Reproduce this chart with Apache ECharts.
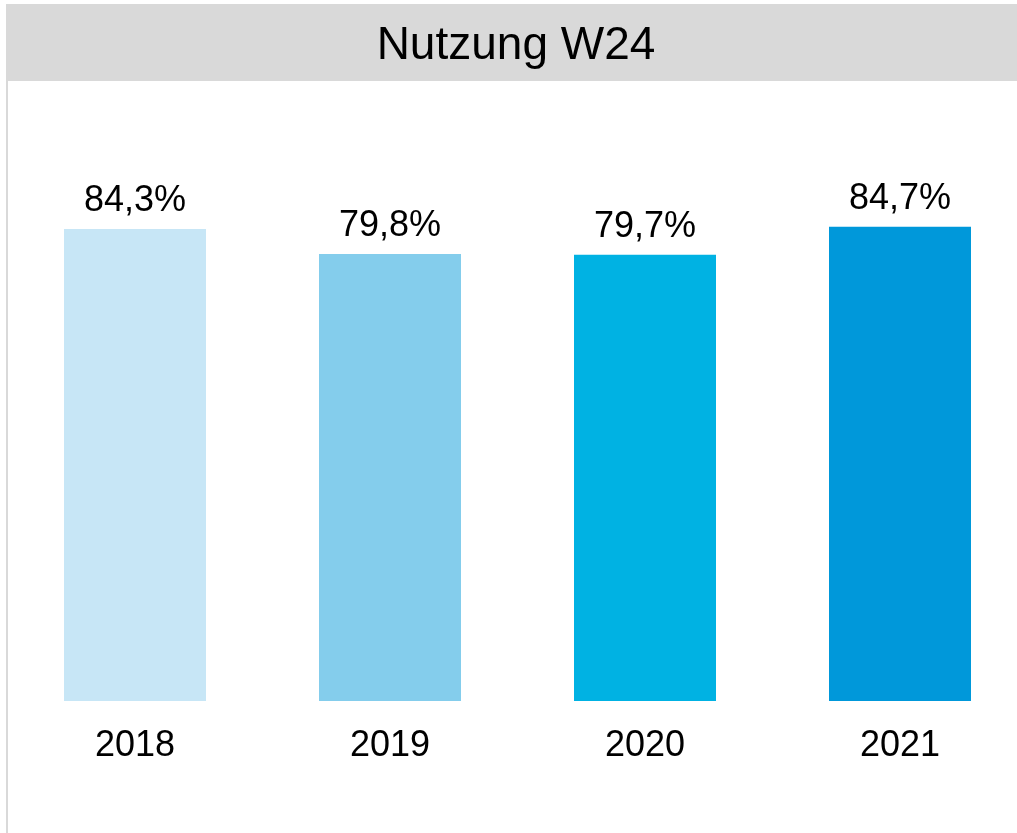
<!DOCTYPE html>
<html>
<head>
<meta charset="utf-8">
<script src="https://cdn.jsdelivr.net/npm/echarts@6/dist/echarts.min.js"></script>
<style>
html,body{margin:0;padding:0;background:#fff;}
#chart{width:1017px;height:833px;}
</style>
</head>
<body>
<div id="chart"></div>
<script>
const titleText = 'Nutzung W24';
const categories = ['2018', '2019', '2020', '2021'];
const values = [84.3, 79.8, 79.7, 84.7];
const barColors = ['#c7e6f6', '#84cdec', '#00b2e3', '#0098da'];

const chart = echarts.init(document.getElementById('chart'), null, {renderer: 'canvas'});
const font = 'Liberation Sans, Arial, sans-serif';
chart.setOption({
  backgroundColor: '#ffffff',
  animation: false,
  graphic: [
    {type: 'rect', left: 6, top: 4, shape: {width: 1011, height: 77}, style: {fill: '#d9d9d9'}, z: 0},
    {type: 'rect', left: 6, top: 81, shape: {width: 2, height: 752}, style: {fill: '#d9d9d9'}, z: 0},
    {type: 'text', x: 516, y: 46, z: 10,
      style: {text: titleText, fill: '#000', font: '46px ' + font, textAlign: 'center', textVerticalAlign: 'middle'}}
  ],
  grid: {left: 135, right: 117, top: 141, bottom: 132, containLabel: false},
  xAxis: {
    type: 'category', data: categories, boundaryGap: false,
    axisLine: {show: false}, axisTick: {show: false},
    axisLabel: {color: '#000', fontSize: 36, fontFamily: font, margin: 27}
  },
  yAxis: {type: 'value', min: 0, max: 100, show: false, splitLine: {show: false}},
  series: [{
    type: 'bar',
    barWidth: 142,
    data: values.map((v, i) => ({value: v, itemStyle: {color: barColors[i]}})),
    label: {
      show: true, position: 'top', distance: 10,
      color: '#000', fontSize: 36, fontFamily: font,
      formatter: p => p.value.toFixed(1).replace('.', ',') + '%'
    }
  }]
});
</script>
</body>
</html>
